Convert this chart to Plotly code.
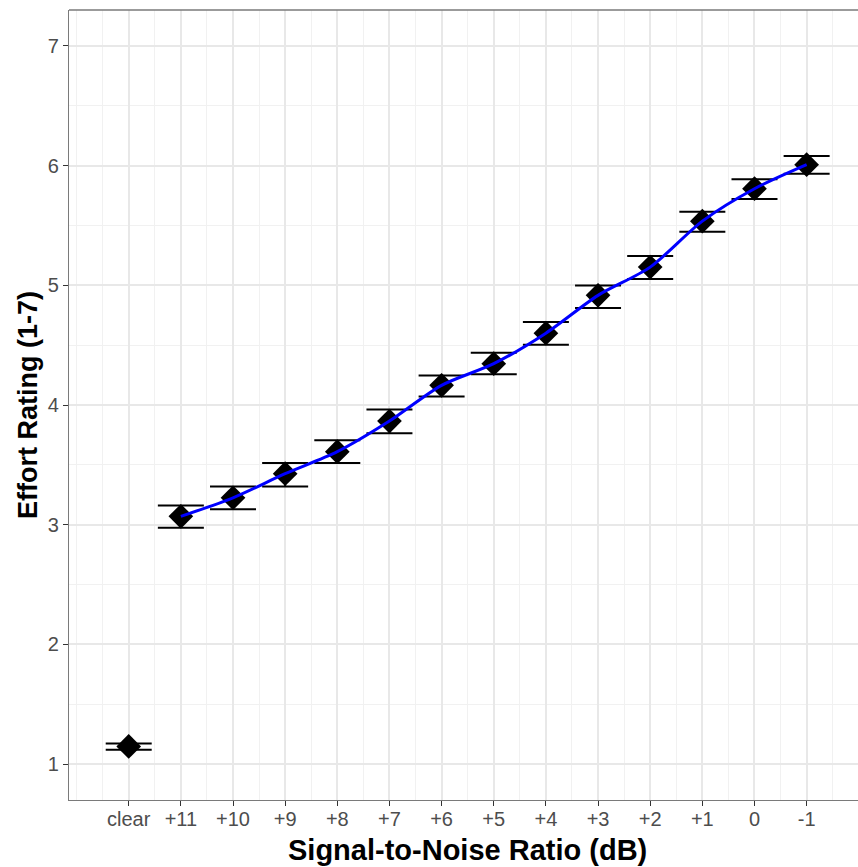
import plotly.graph_objects as go

categories = ["clear", "+11", "+10", "+9", "+8", "+7", "+6", "+5", "+4", "+3", "+2", "+1", "0", "-1"]
means = [1.148, 3.07, 3.225, 3.426, 3.61, 3.866, 4.164, 4.345, 4.60, 4.916, 5.152, 5.536, 5.807, 6.008]
upper = [1.173, 3.161, 3.32, 3.515, 3.705, 3.963, 4.247, 4.437, 4.693, 4.999, 5.244, 5.615, 5.885, 6.08]
lower = [1.12, 2.975, 3.13, 3.32, 3.515, 3.765, 4.07, 4.256, 4.504, 4.81, 5.052, 5.448, 5.72, 5.932]
y_ticks = [1, 2, 3, 4, 5, 6, 7]

x_idx = list(range(len(categories)))
err_plus = [u - m for u, m in zip(upper, means)]
err_minus = [m - l for m, l in zip(means, lower)]

fig = go.Figure()

fig.add_trace(go.Scatter(
    x=x_idx, y=means, mode="markers",
    marker=dict(symbol="diamond", size=19, color="black", line=dict(width=0)),
    error_y=dict(type="data", symmetric=False, array=err_plus, arrayminus=err_minus,
                 color="black", thickness=2, width=23),
    showlegend=False, hoverinfo="skip",
))

fig.add_trace(go.Scatter(
    x=x_idx[1:], y=means[1:], mode="lines",
    line=dict(color="#0000ff", width=3, shape="spline", smoothing=0.8),
    showlegend=False, hoverinfo="skip",
))

fig.update_layout(
    width=858, height=867,
    margin=dict(l=69, r=0, t=10, b=67),
    plot_bgcolor="white", paper_bgcolor="white",
    font=dict(family="Liberation Sans, Arial, sans-serif", color="#4d4d4d"),
    xaxis=dict(
        range=[-1.145, 13.985], tickmode="array", tickvals=x_idx, ticktext=categories,
        showgrid=True, gridcolor="#e8e8e8", gridwidth=1.5,
        minor=dict(dtick=0.5, tick0=0, showgrid=True, gridcolor="#f1f1f1", gridwidth=1, ticks=""),
        ticks="outside", ticklen=5, tickcolor="#333333", tickwidth=1.2,
        tickfont=dict(size=20, color="#4d4d4d"), ticklabelstandoff=-4,
        showline=True, linecolor="#7a7a7a", linewidth=1.4, zeroline=False,
    ),
    yaxis=dict(
        range=[0.7, 7.3], tickmode="array", tickvals=y_ticks,
        showgrid=True, gridcolor="#e8e8e8", gridwidth=1.5,
        minor=dict(dtick=0.5, tick0=0, showgrid=True, gridcolor="#f1f1f1", gridwidth=1, ticks=""),
        ticks="outside", ticklen=5, tickcolor="#333333", tickwidth=1.2,
        tickfont=dict(size=20, color="#4d4d4d"),
        showline=True, linecolor="#7a7a7a", linewidth=1.4, zeroline=False,
    ),
    shapes=[dict(type="line", xref="paper", yref="paper", x0=0, x1=1, y0=1, y1=1,
                 line=dict(color="#7a7a7a", width=1.4))],
    annotations=[
        dict(text="<b>Signal-to-Noise Ratio (dB)</b>", xref="paper", yref="paper",
             x=(467.5 - 69) / 789, y=(800 - 850) / 790, xanchor="center", yanchor="middle",
             showarrow=False, font=dict(size=29, color="black")),
        dict(text="<b>Effort Rating (1-7)</b>", xref="paper", yref="paper",
             x=(28 - 69) / 789, y=0.5, xanchor="center", yanchor="middle", textangle=-90,
             showarrow=False, font=dict(size=27, color="black")),
    ],
)

fig.write_html("out.html")
